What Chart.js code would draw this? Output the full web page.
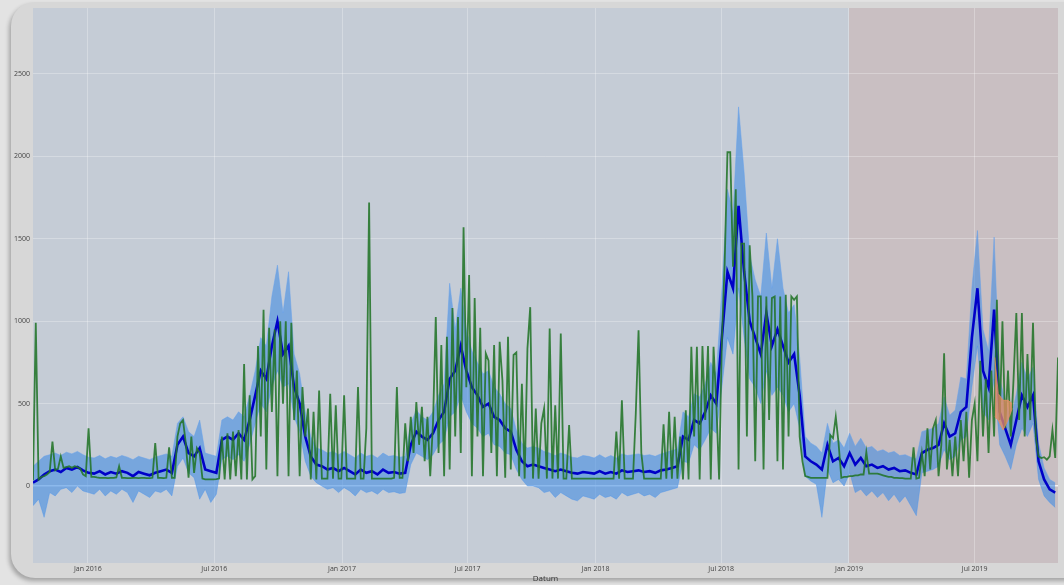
<!DOCTYPE html>
<html>
<head>
<meta charset="utf-8">
<script src="https://cdn.jsdelivr.net/npm/chart.js@4.4.1/dist/chart.umd.min.js"></script>
<style>
  html, body { margin: 0; padding: 0; background: #e3e3e3; overflow: hidden; }
  #card { position: absolute; left: 11px; top: 2px; width: 1090px; height: 576px; background: #d7d7d7;
          border-radius: 24px; box-shadow: -2px 3px 4px rgba(0,0,0,0.28); }
  #wrap { position: absolute; left: 0; top: 0; width: 1064px; height: 585px; }
</style>
</head>
<body>
<div id="card"></div>
<div id="wrap"><canvas id="c" width="1064" height="585"></canvas></div>
<script>
// x = Tage seit 14.10.2015
const X_MAX = 1476;
const X_TICK_DAYS = [79, 261, 445, 626, 810, 991, 1175, 1356];
const X_TICK_LABELS = ['Jan 2016', 'Jul 2016', 'Jan 2017', 'Jul 2017', 'Jan 2018', 'Jul 2018', 'Jan 2019', 'Jul 2019'];
const Y_TICKS = [0, 500, 1000, 1500, 2000, 2500];

// Trainings- / Testzeitraum
const REGION_START = [0, 1175];
const REGION_END = [1175, X_MAX];

// Ist-Werte, alle 4 Tage
const GREEN_STEP = 4;
const actual = [
  35, 990, 40, 55, 60, 70, 85, 270, 95, 105,
  180, 110, 115, 120, 110, 120, 115, 105, 70, 60,
  350, 55, 55, 52, 50, 50, 50, 48, 50, 50,
  52, 120, 50, 50, 48, 48, 50, 50, 48, 50,
  50, 48, 48, 50, 260, 50, 50, 48, 50, 235,
  50, 50, 300, 380, 400, 260, 50, 300, 80, 230,
  200, 45, 40, 40, 40, 40, 42, 45, 300, 40,
  320, 40, 330, 60, 340, 40, 740, 40, 550, 40,
  60, 850, 300, 1070, 100, 960, 450, 950, 60, 1000,
  500, 1000, 60, 990, 400, 700, 60, 600, 300, 470,
  40, 450, 40, 580, 45, 45, 45, 560, 45, 490,
  45, 45, 550, 45, 45, 45, 45, 600, 45, 45,
  350, 1720, 45, 45, 45, 45, 45, 45, 45, 45,
  50, 600, 50, 50, 380, 150, 420, 200, 510, 250,
  480, 150, 420, 60, 380, 1025, 200, 855, 60, 905,
  100, 1080, 300, 1025, 200, 1570, 600, 1280, 60, 1140,
  300, 960, 60, 805, 760, 200, 855, 60, 875, 640,
  50, 905, 100, 795, 810, 60, 620, 45, 835, 1085,
  45, 470, 45, 380, 470, 45, 955, 45, 490, 45,
  925, 45, 45, 370, 45, 45, 45, 45, 45, 45,
  45, 45, 45, 45, 45, 45, 45, 45, 45, 45,
  330, 45, 520, 45, 45, 45, 45, 440, 945, 200,
  45, 45, 45, 45, 45, 45, 45, 375, 45, 450,
  45, 420, 45, 300, 40, 460, 40, 845, 300, 845,
  40, 850, 400, 850, 40, 845, 500, 40, 885, 1350,
  2025, 2025, 1330, 1800, 100, 1470, 1470, 300, 1460, 1150,
  150, 1150, 1150, 100, 1150, 400, 1140, 1150, 150, 1150,
  100, 1160, 300, 1150, 1130, 1150, 300, 150, 60, 55,
  50, 50, 50, 50, 50, 50, 50, 310, 290, 420,
  260, 50, 55, 55, 60, 60, 65, 65, 70, 70,
  205, 75, 75, 75, 75, 70, 65, 60, 55, 55,
  50, 50, 48, 48, 45, 45, 45, 235, 45, 50,
  200, 60, 350, 100, 350, 400, 60, 250, 805, 100,
  280, 60, 300, 60, 400, 150, 450, 50, 400, 500,
  150, 760, 300, 650, 200, 700, 300, 1130, 400, 1000,
  350, 700, 300, 650, 1050, 400, 1050, 300, 800, 400,
  990, 300, 180, 170, 175, 160, 180, 340, 170, 780
];

// Prognose mit Konfidenzband, alle 8 Tage
const BLUE_STEP = 8;
const forecast = [
  20, 40, 70, 90, 100, 85, 110, 100, 115, 95,
  80, 75, 90, 70, 85, 75, 90, 80, 60, 85,
  75, 65, 80, 90, 100, 80, 250, 300, 200, 180,
  230, 100, 90, 80, 280, 300, 280, 320, 280, 400,
  550, 700, 650, 850, 1000, 800, 850, 600, 500, 300,
  180, 130, 120, 100, 110, 90, 110, 90, 70, 100,
  80, 90, 70, 100, 80, 85, 75, 80, 250, 330,
  300, 280, 320, 400, 450, 650, 700, 850, 700, 600,
  550, 480, 500, 420, 400, 350, 330, 220, 150, 120,
  130, 120, 110, 100, 90, 100, 90, 80, 75, 85,
  80, 75, 90, 75, 85, 75, 95, 85, 90, 95,
  85, 90, 80, 95, 100, 110, 120, 300, 280, 400,
  380, 450, 550, 500, 900, 1300, 1200, 1700, 1300, 1000,
  900, 800, 1050, 850, 950, 850, 750, 800, 550, 180,
  150, 130, 100, 250, 150, 170, 120, 200, 130, 170,
  120, 130, 110, 120, 100, 110, 90, 95, 80, 70,
  200, 220, 230, 250, 380, 300, 320, 450, 480, 900,
  1200, 700, 600, 1070, 450, 350, 250, 400, 550, 480,
  550, 150, 40, -20, -40
];
const upper = [
  120, 150, 180, 190, 200, 185, 205, 195, 210, 190,
  175, 170, 185, 165, 180, 170, 185, 175, 160, 180,
  170, 160, 175, 185, 195, 180, 380, 420, 330, 300,
  400, 200, 190, 180, 400, 420, 400, 450, 420, 550,
  700, 900, 850, 1150, 1340, 1050, 1300, 800, 680, 450,
  300, 230, 220, 200, 210, 190, 210, 190, 170, 200,
  180, 190, 170, 200, 180, 185, 175, 180, 380, 460,
  420, 400, 450, 550, 620, 1230, 950, 1200, 950, 820,
  750, 680, 700, 600, 560, 500, 470, 340, 260, 230,
  240, 230, 210, 200, 185, 200, 190, 175, 170, 185,
  180, 170, 190, 170, 185, 170, 195, 185, 190, 195,
  185, 190, 180, 195, 205, 215, 225, 450, 420, 560,
  540, 620, 750, 680, 1200, 1800, 1650, 2300, 1900, 1400,
  1250, 1150, 1535, 1200, 1500, 1200, 1050, 1100, 780, 300,
  260, 240, 200, 380, 260, 280, 230, 320, 240, 290,
  230, 240, 210, 220, 200, 210, 185, 190, 175, 165,
  330, 340, 350, 380, 540, 430, 460, 660, 650, 1200,
  1550, 950, 820, 1510, 650, 520, 400, 560, 750, 650,
  720, 260, 110, 40, 20
];
const lower = [
  -120, -80, -190, -40, -60, -20, -10, -40, 0, -30,
  -40, -50, -20, -60, -30, -50, -20, -40, -100, -30,
  -50, -70, -30, -40, -20, -60, 120, 170, 80, 50,
  -80, -20, -100, -50, 160, 180, 160, 190, 150, 250,
  380, 500, 450, 600, 700, 600, 620, 420, 330, 150,
  60, 20, 0, -20, -10, -40, -10, -30, -60, -20,
  -40, -30, -50, -20, -40, -35, -45, -40, 130, 200,
  180, 160, 190, 250, 280, 420, 450, 550, 450, 380,
  350, 300, 320, 250, 240, 200, 190, 100, 40, 0,
  0, -10, -40, -30, -70, -40, -60, -80, -90, -60,
  -70, -80, -50, -70, -60, -80, -40, -60, -50, -40,
  -60, -50, -70, -40, -30, -20, -10, 150, 140, 250,
  220, 280, 350, 320, 600, 900, 800, 1200, 900, 650,
  600, 500, 700, 550, 600, 550, 450, 500, 350, 60,
  30, 10, -190, 100, 20, 40, 0, 80, -40, -20,
  -60, -30, -70, -40, -90, -50, -100, -60, -120, -180,
  80, 90, 100, 120, 220, 160, 180, 280, 300, 600,
  850, 450, 400, 650, 250, 180, 100, 250, 350, 300,
  380, 40, -60, -100, -130
];

// markierter Bereich Aug 2019
const ORANGE_DAYS = [1385, 1390, 1397, 1404, 1410];
const orangeHigh = [780, 560, 520, 520, 500];
const orangeLow = [420, 400, 340, 400, 470];

const REGION_COLORS = ['#c5ccd6', '#c9bfc2'];
const GRID = 'rgba(255,255,255,0.28)';

const series = (vals, step) => vals.map((v, i) => ({ x: i * step, y: v }));
const atDays = (days, vals) => days.map((d, k) => ({ x: d, y: vals[k] }));

const regions = {
  id: 'regions',
  beforeDraw(chart) {
    const { ctx, chartArea: a, scales: { x } } = chart;
    ctx.save();
    REGION_START.forEach((s, k) => {
      const x0 = Math.max(a.left, x.getPixelForValue(s));
      const x1 = Math.min(a.right, x.getPixelForValue(REGION_END[k]));
      ctx.fillStyle = REGION_COLORS[k];
      ctx.fillRect(x0, a.top, x1 - x0, a.bottom - a.top);
    });
    ctx.restore();
  }
};

const line = (data, color, width, extra = {}) => ({
  data, borderColor: color, borderWidth: width, pointRadius: 0, tension: 0, fill: false, ...extra
});

new Chart(document.getElementById('c'), {
  type: 'line',
  data: {
    datasets: [
      line(atDays(ORANGE_DAYS, orangeHigh), 'rgba(232,140,95,0.75)', 1, { fill: '+1', backgroundColor: 'rgba(232,140,95,0.75)' }),
      line(atDays(ORANGE_DAYS, orangeLow), 'rgba(232,140,95,0.75)', 1),
      line(series(actual, GREEN_STEP), 'rgba(34,116,40,0.88)', 1.8),
      line(series(forecast, BLUE_STEP), 'rgb(0,0,200)', 2.6),
      line(series(upper, BLUE_STEP), 'rgba(100,160,235,0.5)', 1, { fill: '+1', backgroundColor: 'rgba(55,135,228,0.55)' }),
      line(series(lower, BLUE_STEP), 'rgba(100,160,235,0.5)', 1),
    ]
  },
  options: {
    responsive: false,
    animation: false,
    events: [],
    layout: { padding: { top: 8, right: 6, left: 0, bottom: 0 } },
    plugins: { legend: { display: false }, tooltip: { enabled: false } },
    scales: {
      x: {
        type: 'linear', min: 0, max: X_MAX,
        afterBuildTicks: (s) => { s.ticks = X_TICK_DAYS.map((v) => ({ value: v })); },
        afterFit: (s) => { s.height = 22; },
        ticks: {
          autoSkip: false, maxRotation: 0, padding: 2, color: '#444',
          font: { family: 'Open Sans', size: 7 },
          callback: (v) => X_TICK_LABELS[X_TICK_DAYS.indexOf(v)],
        },
        grid: { color: GRID, drawTicks: false },
        border: { display: false },
        title: { display: true, text: 'Datum', color: '#333', font: { family: 'Open Sans', size: 8 }, padding: { top: 0, bottom: 1 } },
      },
      y: {
        min: -467, max: 2900,
        afterBuildTicks: (s) => { s.ticks = Y_TICKS.map((v) => ({ value: v })); },
        afterFit: (s) => { s.width = 33; },
        ticks: { padding: 3, color: '#444', font: { family: 'Open Sans', size: 7 }, callback: (v) => String(v) },
        grid: {
          drawTicks: false,
          color: (c) => (c.tick && c.tick.value === 0 ? 'rgba(255,255,255,0.8)' : GRID),
          lineWidth: (c) => (c.tick && c.tick.value === 0 ? 1.5 : 1),
        },
        border: { display: false },
      },
    },
  },
  plugins: [regions],
});
</script>
</body>
</html>
